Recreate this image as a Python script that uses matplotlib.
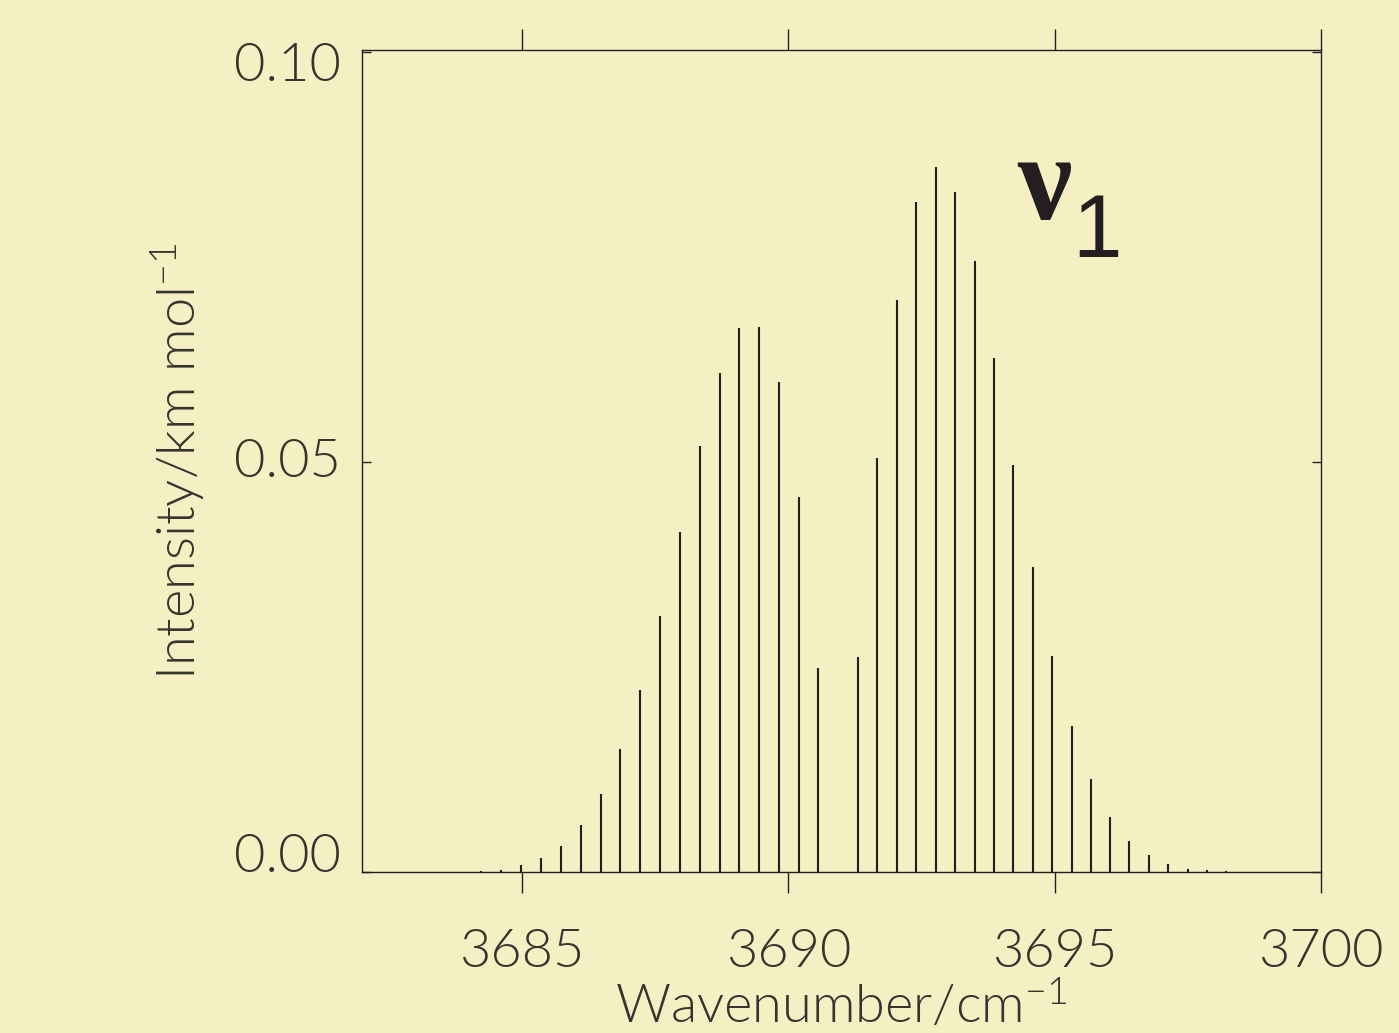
import matplotlib
matplotlib.use('Agg')
import matplotlib.pyplot as plt
import matplotlib.transforms as mtransforms

# stick spectrum, nu1 band
wavenumber = [3684.229, 3684.605, 3684.980, 3685.356, 3685.731, 3686.107, 3686.483,
              3686.845, 3687.221, 3687.596, 3687.972, 3688.347, 3688.723, 3689.080,
              3689.455, 3689.831, 3690.207, 3690.563,
              3691.315, 3691.666, 3692.041, 3692.404, 3692.779, 3693.131, 3693.506,
              3693.863, 3694.220, 3694.595, 3694.958, 3695.328, 3695.685, 3696.047,
              3696.404, 3696.779, 3697.136, 3697.493, 3697.850, 3698.207]
intensity = [0.00017, 0.0003, 0.0009, 0.0018, 0.0032, 0.0058, 0.0095,
             0.0150, 0.0222, 0.0312, 0.0415, 0.0519, 0.0609, 0.0663,
             0.0664, 0.0597, 0.0457, 0.0249,
             0.0263, 0.0505, 0.0698, 0.0817, 0.0859, 0.0829, 0.0745,
             0.0627, 0.0496, 0.0372, 0.0264, 0.0178, 0.0114, 0.0068,
             0.0038, 0.0021, 0.0010, 0.0004, 0.00025, 0.00017]

xticks = [3685, 3690, 3695, 3700]
yticks = [0.0, 0.05, 0.10]
ytick_labels = ['0.00', '0.05', '0.10']

bg = '#f4f0c3'
ink = '#231f20'
txt = '#35342e'
fs = 39
fw = 300

plt.rcParams['font.family'] = ['Lato', 'DejaVu Sans']
plt.rcParams['font.weight'] = fw
plt.rcParams['mathtext.fontset'] = 'custom'
plt.rcParams['mathtext.rm'] = 'Lato:weight=300'
plt.rcParams['mathtext.it'] = 'Lato:weight=300'

fig = plt.figure(figsize=(13.99, 10.33), dpi=100, facecolor=bg)
ax = fig.add_axes([0.2588, 0.1554, 0.6855, 0.7962], facecolor=bg)

ax.vlines(wavenumber, 0, intensity, color=ink, lw=1.5)

ax.set_xlim(3682, 3700)
ax.set_ylim(0, 0.1002)

for s in ax.spines.values():
    s.set_color(ink)
    s.set_linewidth(1.0)

ax.set_xticks(xticks)
ax.set_xticklabels([str(t) for t in xticks], fontweight=fw)
ax.tick_params(axis='x', direction='out', top=True, bottom=True, length=15, width=1.0,
               color=ink, pad=26, labelsize=fs, labelcolor=txt)

ax.set_yticks(yticks)
ax.set_yticklabels(ytick_labels, fontweight=fw)
ax.tick_params(axis='y', direction='in', left=True, right=True, length=6.5, width=1.0,
               color=ink, pad=15, labelsize=fs, labelcolor=txt)
labs = ax.get_yticklabels()
labs[0].set_va('baseline')
labs[1].set_va('center')
labs[2].set_va('top')
labs[2].set_transform(labs[2].get_transform() +
                      mtransforms.ScaledTranslation(0, 6 / 72, fig.dpi_scale_trans))

ax.set_xlabel('Wavenumber/cm$^{-1}$', fontsize=fs, color=txt, va='baseline',
              fontweight=fw)
ax.xaxis.set_label_coords(0.5, -0.184)
ax.set_ylabel('Intensity/km mol$^{-1}$', fontsize=fs, color=txt, va='center',
              fontweight=fw)
ax.yaxis.set_label_coords(-0.192, 0.5)

# band label
ax.text(0.683, 0.795, '\u03bd', transform=ax.transAxes, fontsize=88,
        family='Liberation Serif', weight='bold', color=ink, va='baseline', ha='left')
ax.text(0.741, 0.748, '1', transform=ax.transAxes, fontsize=64,
        family=['Liberation Sans Narrow', 'Liberation Sans'], weight='normal',
        color=ink, va='baseline', ha='left')

fig.savefig('out.png', dpi=100, facecolor=bg)
